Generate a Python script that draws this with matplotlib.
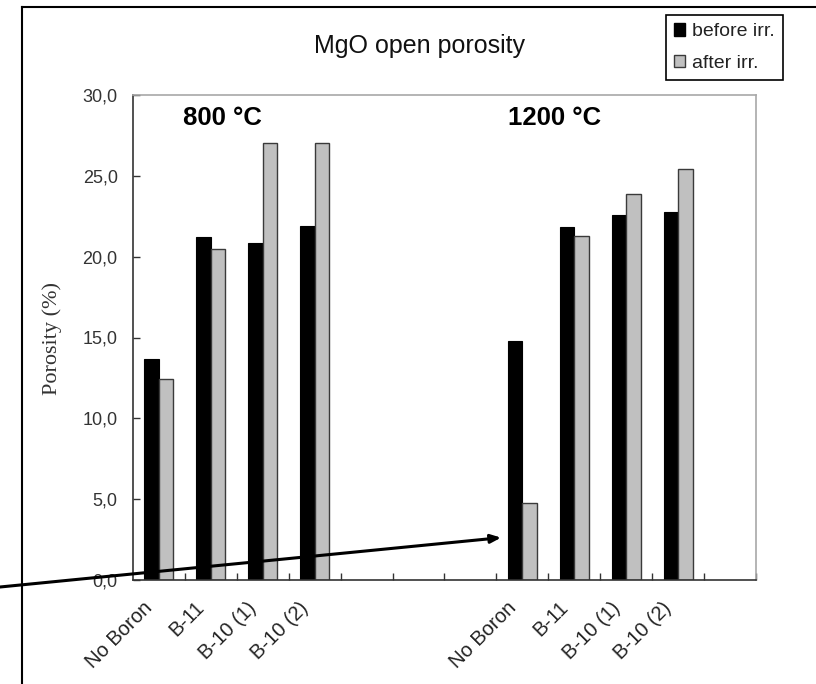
import numpy as np
import matplotlib
matplotlib.use("Agg")
import matplotlib.pyplot as plt
from matplotlib.patches import Patch
from matplotlib.lines import Line2D
from matplotlib.transforms import ScaledTranslation

plt.rcParams['font.family'] = ['Liberation Sans', 'DejaVu Sans']

# ---- data ----
categories = ["No Boron", "B-11", "B-10 (1)", "B-10 (2)"]
before_800 = [13.65, 21.2, 20.85, 21.9]
after_800 = [12.45, 20.45, 27.0, 27.0]
before_1200 = [14.8, 21.85, 22.6, 22.75]
after_1200 = [4.75, 21.3, 23.85, 25.4]
yticks = [0, 5, 10, 15, 20, 25, 30]
ytick_labels = ["0,0", "5,0", "10,0", "15,0", "20,0", "25,0", "30,0"]
series_labels = ["before irr.", "after irr."]
title = "MgO open porosity"
group_labels = ["800 °C", "1200 °C"]
ylabel = "Porosity (%)"

W, H = 816, 684
fig = plt.figure(figsize=(W / 100, H / 100), dpi=100)
ax = fig.add_axes([133 / W, 1 - 580 / H, (756 - 133) / W, (580 - 95) / H])

n_slots = 12
x800 = np.arange(len(categories))
x1200 = np.arange(len(categories)) + 7
bw = 0.28
black = "#000000"
gray = "#c0c0c0"
edge_gray = "#3a3a3a"

for xs, b, a in [(x800, before_800, after_800), (x1200, before_1200, after_1200)]:
    ax.bar(xs - bw / 2, b, width=bw, color=black, edgecolor=black, linewidth=0.8)
    ax.bar(xs + bw / 2, a, width=bw, color=gray, edgecolor=edge_gray, linewidth=1.0)

ax.set_xlim(-0.5, n_slots - 0.5)
ax.set_ylim(0, 30)

# y ticks
ax.set_yticks(yticks)
ax.set_yticklabels(ytick_labels)
ax.tick_params(axis='y', direction='in', length=5, width=1, pad=11,
               labelsize=13, labelcolor='#333333', color='#333333')

# x ticks at slot boundaries
ax.set_xticks(np.arange(n_slots) + 0.5)
ax.set_xticklabels([])
ax.tick_params(axis='x', which='major', direction='in', length=5, width=1, color='#333333')

# category labels, rotated, under each group
lab_tr = ax.get_xaxis_transform() + ScaledTranslation(-0.16, -0.18, fig.dpi_scale_trans)
for xs in (x800, x1200):
    for xv, name in zip(xs, categories):
        ax.text(xv, 0, name, transform=lab_tr, rotation=45, ha='right', va='top',
                rotation_mode='anchor', fontsize=14.5, color='#222222')

for s in ['left', 'bottom']:
    ax.spines[s].set_color('#333333')
    ax.spines[s].set_linewidth(1.2)
for s in ['top', 'right']:
    ax.spines[s].set_color('#a8a8a8')
    ax.spines[s].set_linewidth(1.2)

# y label
fig.text(52 / W, 1 - 338 / H, ylabel, rotation=90, ha='center', va='center',
         fontsize=16, family=['Liberation Serif', 'DejaVu Serif'], color='#333333')

# title and group labels
fig.text(420 / W, 1 - 53 / H, title, ha='center', va='baseline', fontsize=18, color='#111111')
fig.text(183 / W, 1 - 125 / H, group_labels[0], ha='left', va='baseline', fontsize=18.5,
         fontweight='bold', color='black')
fig.text(508 / W, 1 - 125 / H, group_labels[1], ha='left', va='baseline', fontsize=18.5,
         fontweight='bold', color='black')

# legend
handles = [Patch(facecolor=black, edgecolor=black),
           Patch(facecolor=gray, edgecolor=edge_gray, linewidth=1.0)]
leg = fig.legend(handles, series_labels, loc='upper left',
                 bbox_to_anchor=(666 / W, 1 - 15 / H), frameon=True, fancybox=False,
                 edgecolor='black', framealpha=1, fontsize=14, handlelength=0.55,
                 handleheight=0.6, handletextpad=0.35, borderpad=0.42, labelspacing=0.75,
                 borderaxespad=0)
leg.get_frame().set_linewidth(1.2)
for t in leg.get_texts():
    t.set_color('#222222')

# outer chart frame (extends beyond image)
fig.add_artist(Line2D([21.5 / W, 21.5 / W], [0, 1 - 7.3 / H], transform=fig.transFigure,
                      color='black', lw=1.5))
fig.add_artist(Line2D([21.5 / W, 1], [1 - 7.3 / H, 1 - 7.3 / H], transform=fig.transFigure,
                      color='black', lw=1.5))

# arrow from outside left edge to the 1200 °C No Boron after-irr. bar
ax.annotate("", xy=(6.59, 2.62), xycoords='data',
            xytext=(0, 1 - 587 / H), textcoords='figure fraction',
            arrowprops=dict(arrowstyle='-|>,head_length=0.6,head_width=0.25', lw=2.2,
                            color='black', shrinkA=0, shrinkB=0),
            annotation_clip=False)

fig.savefig("out.png", dpi=100)
